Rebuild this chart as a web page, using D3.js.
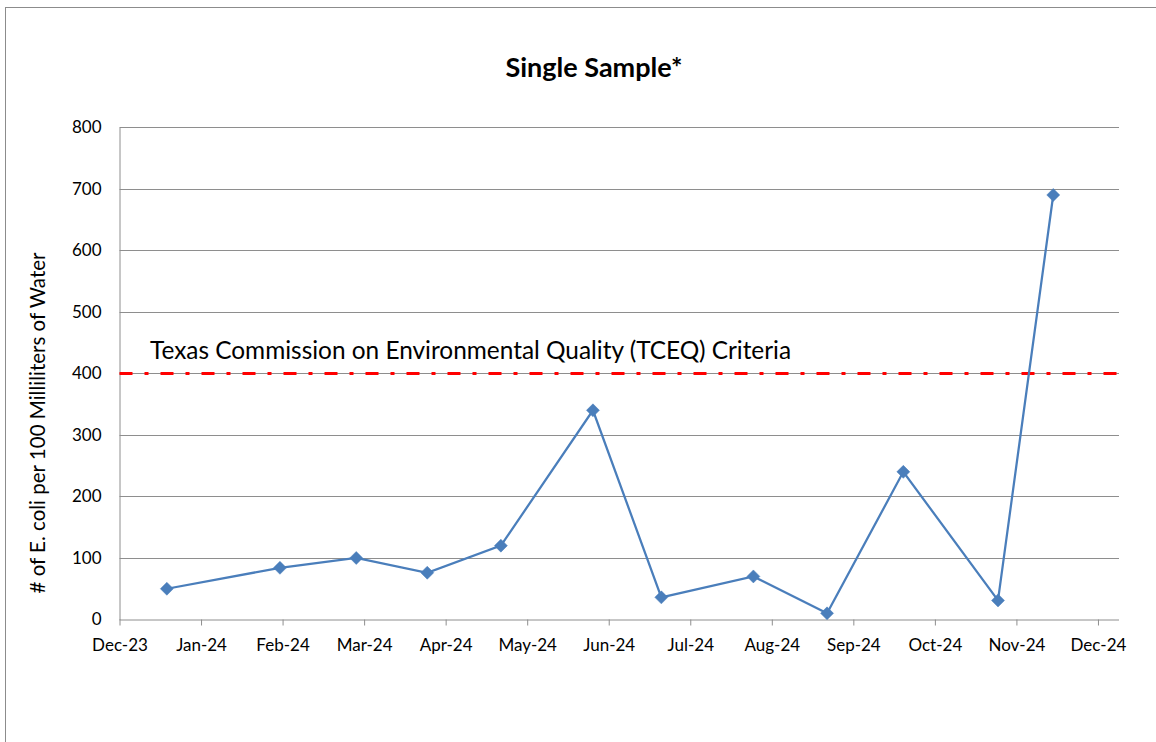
<!DOCTYPE html>
<html>
<head>
<meta charset="utf-8">
<script src="https://cdn.jsdelivr.net/npm/d3@7"></script>
<style>
  html, body { margin: 0; padding: 0; background: #fff; }
  svg { display: block; font-family: Lato, "Open Sans", "Liberation Sans", sans-serif; }
</style>
</head>
<body>
<svg id="chart" width="1156" height="742"></svg>
<script>
// Sampling dates and E. coli counts (# per 100 mL)
const sampleDates = ["2023-12-19", "2024-01-31", "2024-02-29", "2024-03-27", "2024-04-24", "2024-05-29",
                     "2024-06-24", "2024-07-29", "2024-08-26", "2024-09-24", "2024-10-30", "2024-11-20"];
const ecoliCounts = [50, 84, 100, 76, 120, 340, 36, 70, 10, 240, 31, 690];

// TCEQ single-sample criterion
const criterionValue = 400;
const criterionLabel = "Texas Commission on Environmental Quality (TCEQ) Criteria";

// Axis settings
const yTicks = [0, 100, 200, 300, 400, 500, 600, 700, 800];
const xStart = "2023-12-01";
const xTickStepDays = 31;
const xTickCount = 13;
const xSpanDays = 380;

const titleText = "Single Sample*";
const yAxisTitle = "# of E. coli per 100 Milliliters of Water";

const parse = d3.utcParse("%Y-%m-%d");
const DAY = 86400000;
const x0 = parse(xStart);
const xTickDates = d3.range(xTickCount).map(i => new Date(+x0 + i * xTickStepDays * DAY));
const data = sampleDates.map((d, i) => ({ date: parse(d), value: ecoliCounts[i] }));

const svg = d3.select("#chart");
const plot = { left: 119.5, right: 1119, top: 127.3, bottom: 619.5 };

// Outer chart frame
svg.append("rect")
  .attr("x", 5.5).attr("y", 7.5)
  .attr("width", 1200).attr("height", 800)
  .attr("fill", "none").attr("stroke", "#8c8c8c").attr("stroke-width", 1);

const x = d3.scaleUtc()
  .domain([x0, new Date(+x0 + xSpanDays * DAY)])
  .range([plot.left, plot.right]);

const y = d3.scaleLinear()
  .domain([0, 800])
  .range([plot.bottom, plot.top]);

// Horizontal gridlines
svg.append("g")
  .selectAll("line")
  .data(yTicks.filter(v => v > 0))
  .join("line")
  .attr("x1", plot.left).attr("x2", plot.right)
  .attr("y1", d => Math.round(y(d)) + 0.5).attr("y2", d => Math.round(y(d)) + 0.5)
  .attr("stroke", "#8e8e8e").attr("stroke-width", 1);

// Y axis
const yAxis = svg.append("g")
  .attr("transform", `translate(${plot.left},0)`)
  .call(d3.axisLeft(y).tickValues(yTicks).tickSize(0).tickPadding(18).tickFormat(d3.format("d")));
yAxis.select(".domain").attr("stroke", "#8e8e8e");
yAxis.selectAll("text").attr("font-size", 17).attr("fill", "#000")
  .attr("font-family", "Lato, 'Open Sans', sans-serif");

// X axis
const xAxis = svg.append("g")
  .attr("transform", `translate(0,${plot.bottom})`)
  .call(d3.axisBottom(x).tickValues(xTickDates).tickSize(6).tickPadding(13)
    .tickFormat(d3.utcFormat("%b-%y")));
xAxis.select(".domain").attr("stroke", "#8e8e8e").attr("d", `M${plot.left},0.5H${plot.right}`);
xAxis.selectAll(".tick line").attr("stroke", "#8e8e8e");
xAxis.selectAll("text").attr("font-size", 17).attr("fill", "#000")
  .attr("font-family", "Lato, 'Open Sans', sans-serif");

// Criterion line (red dash-dot)
svg.append("line")
  .attr("x1", plot.left).attr("x2", plot.right)
  .attr("y1", y(criterionValue)).attr("y2", y(criterionValue))
  .attr("stroke", "#ff0000").attr("stroke-width", 3)
  .attr("stroke-dasharray", "13,12,4,12")
  .attr("stroke-dashoffset", 0);

svg.append("text")
  .attr("x", 150).attr("y", y(criterionValue) - 14)
  .attr("font-size", 24.4).attr("fill", "#000")
  .text(criterionLabel);

// Data series
const line = d3.line().x(d => x(d.date)).y(d => y(d.value));
svg.append("path")
  .datum(data)
  .attr("d", line)
  .attr("fill", "none")
  .attr("stroke", "#4a7ebb")
  .attr("stroke-width", 2.25);

svg.append("g")
  .selectAll("path")
  .data(data)
  .join("path")
  .attr("transform", d => `translate(${x(d.date)},${y(d.value)})`)
  .attr("d", "M0,-6.5L6.5,0L0,6.5L-6.5,0Z")
  .attr("fill", "#4a7ebb")
  .attr("stroke", "#4a7ebb")
  .attr("stroke-width", 0.5);

// Title
svg.append("text")
  .attr("x", 594).attr("y", 77)
  .attr("text-anchor", "middle")
  .attr("font-size", 27).attr("font-weight", "bold").attr("fill", "#000")
  .text(titleText);

// Y axis title
svg.append("text")
  .attr("transform", `translate(45,423) rotate(-90)`)
  .attr("text-anchor", "middle")
  .attr("font-size", 20.5).attr("fill", "#000")
  .text(yAxisTitle);
</script>
</body>
</html>
